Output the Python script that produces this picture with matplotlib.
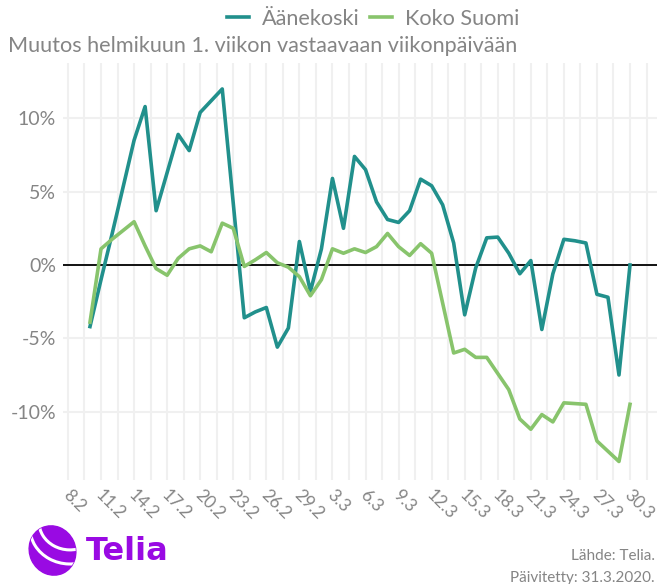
import matplotlib
matplotlib.use("Agg")
import matplotlib.pyplot as plt
import matplotlib.dates as mdates
import numpy as np
import pandas as pd
from matplotlib.patches import Ellipse, Arc
from matplotlib.ticker import FixedLocator, FuncFormatter
from matplotlib.transforms import ScaledTranslation

plt.rcParams['font.family'] = ['Lato', 'DejaVu Sans']

# daily values 10.2.2020 - 30.3.2020, % change vs. same weekday of 1st week of February
dates = pd.date_range("2020-02-10", "2020-03-30", freq="D")
aanekoski = [-4.2, -1.0, 2.1, 5.3, 8.5, 10.8, 3.7, 6.3, 8.9, 7.8,
             10.4, 11.2, 12.0, 4.2, -3.6, -3.2, -2.9, -5.6, -4.3, 1.6,
             -1.8, 1.1, 5.9, 2.5, 7.4, 6.5, 4.3, 3.1, 2.9, 3.7,
             5.85, 5.4, 4.1, 1.5, -3.4, -0.2, 1.85, 1.9, 0.8, -0.6,
             0.3, -4.4, -0.6, 1.75, 1.65, 1.5, -2.0, -2.2, -7.5, 0.0]
koko_suomi = [-3.9, 1.1, 1.75, 2.35, 2.95, 1.3, -0.25, -0.7, 0.45, 1.1,
              1.3, 0.9, 2.85, 2.5, -0.1, 0.35, 0.85, 0.15, -0.15, -0.8,
              -2.1, -1.0, 1.1, 0.8, 1.1, 0.85, 1.25, 2.15, 1.25, 0.65,
              1.45, 0.8, -2.6, -6.0, -5.75, -6.3, -6.3, -7.4, -8.5, -10.5,
              -11.2, -10.2, -10.7, -9.4, -9.45, -9.5, -12.0, -12.7, -13.4, -9.5]
tick_dates = pd.date_range("2020-02-08", "2020-03-30", freq="3D")
y_ticks = [-10, -5, 0, 5, 10]

teal = "#21908C"
green = "#88C46C"
grey = "#858585"
grid = "#F0F0F0"

fig = plt.figure(figsize=(6.57, 5.84), dpi=100)
ax = fig.add_axes([63/657, 104/584, 594/657, 417/584])

ax.axhline(0, color="black", lw=1.3, zorder=2)
l1, = ax.plot(dates, aanekoski, color=teal, lw=2.6, label="Äänekoski", zorder=3)
l2, = ax.plot(dates, koko_suomi, color=green, lw=2.6, label="Koko Suomi", zorder=3)

span = dates[-1] - dates[0]
ax.set_xlim(dates[0] - span * 0.05, dates[-1] + span * 0.05)
ax.set_ylim(-14.66, 13.77)

ax.xaxis.set_major_locator(FixedLocator(mdates.date2num(tick_dates)))
minor = mdates.date2num(tick_dates) + 1.5
ax.xaxis.set_minor_locator(FixedLocator(np.concatenate([minor, minor[:1] - 3])))
ax.xaxis.set_major_formatter(FuncFormatter(lambda v, p: f"{mdates.num2date(v).day}.{mdates.num2date(v).month}"))
ax.set_yticks(y_ticks)
ax.yaxis.set_major_formatter(FuncFormatter(lambda v, p: f"{v:.0f}%"))

ax.grid(which="both", axis="x", color=grid, lw=1.5, zorder=0)
ax.grid(which="major", axis="y", color=grid, lw=1.5, zorder=0)
ax.tick_params(which="both", length=0)
ax.tick_params(axis="y", labelsize=14, labelcolor=grey, pad=5)
ax.tick_params(axis="x", labelsize=12.5, labelcolor=grey, pad=5)
shift = ScaledTranslation(3/100, 0, fig.dpi_scale_trans)
for lab in ax.get_xticklabels():
    lab.set_rotation(-45)
    lab.set_ha("left")
    lab.set_va("top")
    lab.set_rotation_mode("anchor")
    lab.set_transform(lab.get_transform() + shift)
for s in ax.spines.values():
    s.set_visible(False)

fig.text(8/657, 1 - 46/584, "Muutos helmikuun 1. viikon vastaavaan viikonpäivään",
         fontsize=15.6, color=grey, va="center", ha="left")
fig.legend(handles=[l1, l2], loc="center", bbox_to_anchor=(373/657, 1 - 19/584), ncol=2,
           frameon=False, fontsize=15.6, labelcolor=grey, handlelength=1.0,
           handletextpad=0.6, columnspacing=0.5, borderpad=0)

# Telia logo
purple = "#990AE3"
glob = Ellipse((0.525, 0.335), 0.46, 0.50, angle=25, color=purple,
               transform=fig.dpi_scale_trans)
fig.add_artist(glob)
for r, a in [(0.62, 0.0), (0.80, -0.06)]:
    arc = Arc((0.70, 0.62 + a), r, r * 0.9, angle=0, theta1=180, theta2=300,
              color="white", lw=2.2, transform=fig.dpi_scale_trans)
    arc.set_clip_path(glob)
    fig.add_artist(arc)
fig.text(0.86, 0.32, "Telia", fontsize=23, fontweight="bold", color=purple,
         family="Liberation Sans Narrow", va="center", ha="left", transform=fig.dpi_scale_trans)

fig.text(655/657, 1 - 556/584, "Lähde: Telia.", fontsize=11, color=grey, ha="right", va="center")
fig.text(655/657, 1 - 578/584, "Päivitetty: 31.3.2020.", fontsize=11, color=grey, ha="right", va="center")

fig.savefig("out.png", dpi=100)
